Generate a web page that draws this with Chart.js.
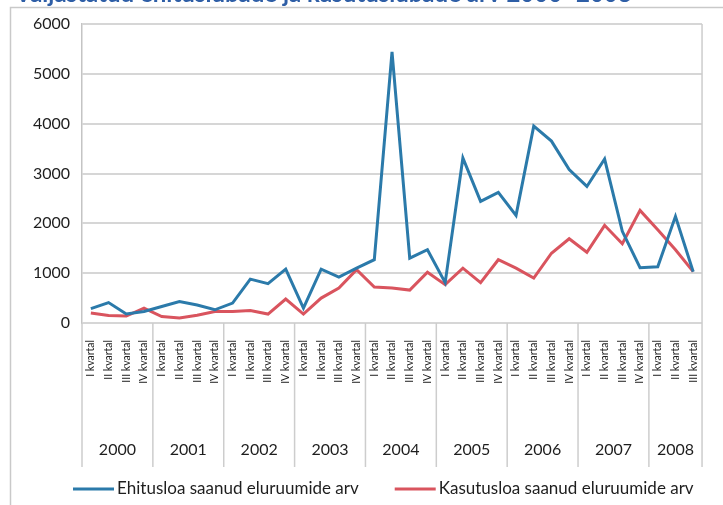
<!DOCTYPE html>
<html>
<head>
<meta charset="utf-8">
<script src="https://cdn.jsdelivr.net/npm/chart.js@4"></script>
<style>
  html, body { margin: 0; padding: 0; background: #fff; }
</style>
</head>
<body>
<canvas id="myChart" width="723" height="505"></canvas>
<script>
// aastad ja kvartalite arv igas aastas (2008 ainult kolm kvartalit)
const years = ['2000', '2001', '2002', '2003', '2004', '2005', '2006', '2007', '2008'];
const quartersPerYear = [4, 4, 4, 4, 4, 4, 4, 4, 3];
const quarterNames = ['I kvartal', 'II kvartal', 'III kvartal', 'IV kvartal'];

// eluruumide arv kvartalite kaupa
const ehitusluba = [290, 410, 180, 230, 330, 430, 360, 265, 400, 880, 790, 1080,
    300, 1080, 920, 1100, 1270, 5440, 1300, 1470, 810, 3310, 2440, 2620,
    2160, 3950, 3650, 3080, 2740, 3290, 1840, 1110, 1130, 2140, 1030];
const kasutusluba = [200, 150, 140, 300, 130, 100, 155, 230, 230, 250, 180, 480,
    180, 500, 700, 1070, 720, 700, 660, 1020, 770, 1100, 810, 1270,
    1100, 900, 1400, 1690, 1420, 1960, 1590, 2260, 1870, 1470, 1030];

const yTicks = [0, 1000, 2000, 3000, 4000, 5000, 6000];

const chartTitle = 'Väljastatud ehituslubade ja kasutuslubade arv 2000–2008';

// kvartalite sildid x-teljele
const labels = [];
quartersPerYear.forEach(n => {
    for (let q = 0; q < n; q++) labels.push(quarterNames[q]);
});

const FONT = 'Lato, "Open Sans", sans-serif';
const GRID = '#d6d6d6';
const DIVIDER = '#cdcdcd';

// raam, pealkiri, aastate read ja legend
const extras = {
    id: 'extras',
    afterDraw(chart) {
        const ctx = chart.ctx;
        const area = chart.chartArea;
        const x = chart.scales.x;
        const step = x.getPixelForValue(1) - x.getPixelForValue(0);
        const bottomLine = 467;

        ctx.save();

        // välimine raam
        ctx.strokeStyle = '#c9c9c9';
        ctx.lineWidth = 1.5;
        ctx.beginPath();
        ctx.moveTo(10.5, 505);
        ctx.lineTo(10.5, 7.5);
        ctx.lineTo(723, 7.5);
        ctx.stroke();

        // pealkiri (ülemine osa jääb välja)
        ctx.fillStyle = '#2e5ea6';
        ctx.font = 'bold 24px ' + FONT;
        ctx.textAlign = 'left';
        ctx.textBaseline = 'alphabetic';
        ctx.fillText(chartTitle, 15, 2);

        // joonisala parem serv
        ctx.strokeStyle = DIVIDER;
        ctx.lineWidth = 1.5;
        ctx.beginPath();
        ctx.moveTo(area.right, area.top);
        ctx.lineTo(area.right, bottomLine);
        ctx.stroke();

        // aastate vahelised jooned ja aastad
        ctx.font = '16px ' + FONT;
        ctx.fillStyle = '#1e1e1e';
        ctx.textAlign = 'center';
        ctx.textBaseline = 'middle';
        let idx = 0;
        years.forEach((year, i) => {
            const left = x.getPixelForValue(idx) - step / 2;
            const right = x.getPixelForValue(idx + quartersPerYear[i] - 1) + step / 2;
            ctx.beginPath();
            ctx.moveTo(left, area.bottom);
            ctx.lineTo(left, bottomLine);
            ctx.stroke();
            ctx.fillText(year, (left + right) / 2, 450);
            idx += quartersPerYear[i];
        });

        // legend
        ctx.font = '17px ' + FONT;
        ctx.textAlign = 'left';
        let lx = 73;
        const ly = 489;
        chart.data.datasets.forEach(ds => {
            ctx.strokeStyle = ds.borderColor;
            ctx.lineWidth = 3;
            ctx.beginPath();
            ctx.moveTo(lx, ly);
            ctx.lineTo(lx + 41, ly);
            ctx.stroke();
            ctx.fillStyle = '#1e1e1e';
            ctx.fillText(ds.label, lx + 44, ly);
            lx += 44 + ctx.measureText(ds.label).width + 36;
        });

        ctx.restore();
    }
};

const ctx = document.getElementById('myChart').getContext('2d');
const chart = new Chart(ctx, {
    type: 'line',
    data: {
        labels: labels,
        datasets: [
            {
                label: 'Ehitusloa saanud eluruumide arv',
                data: ehitusluba,
                borderColor: '#2b7aaa',
                borderWidth: 3,
                pointRadius: 0,
                fill: false,
            },
            {
                label: 'Kasutusloa saanud eluruumide arv',
                data: kasutusluba,
                borderColor: '#d9545e',
                borderWidth: 3,
                pointRadius: 0,
                fill: false,
            },
        ],
    },
    options: {
        responsive: false,
        animation: false,
        layout: {
            padding: { top: 24, right: 15, bottom: 38, left: 0 },
        },
        plugins: {
            legend: { display: false },
            tooltip: { enabled: false },
        },
        scales: {
            x: {
                offset: true,
                grid: { display: false, drawTicks: false },
                border: { display: false },
                ticks: {
                    autoSkip: false,
                    minRotation: 90,
                    maxRotation: 90,
                    padding: 17,
                    color: '#1e1e1e',
                    font: { family: FONT, size: 10.5 },
                },
                afterFit: scale => { scale.height = 144; },
            },
            y: {
                min: 0,
                max: 6000,
                afterBuildTicks: scale => {
                    scale.ticks = yTicks.map(v => ({ value: v }));
                },
                grid: { color: GRID, lineWidth: 2, drawTicks: false },
                border: { color: '#c4c4c4', width: 1.5 },
                ticks: {
                    padding: 12,
                    color: '#1e1e1e',
                    font: { family: FONT, size: 16 },
                    callback: v => String(v),
                },
                afterFit: scale => { scale.width = 82; },
            },
        },
    },
    plugins: [extras],
});
</script>
</body>
</html>
